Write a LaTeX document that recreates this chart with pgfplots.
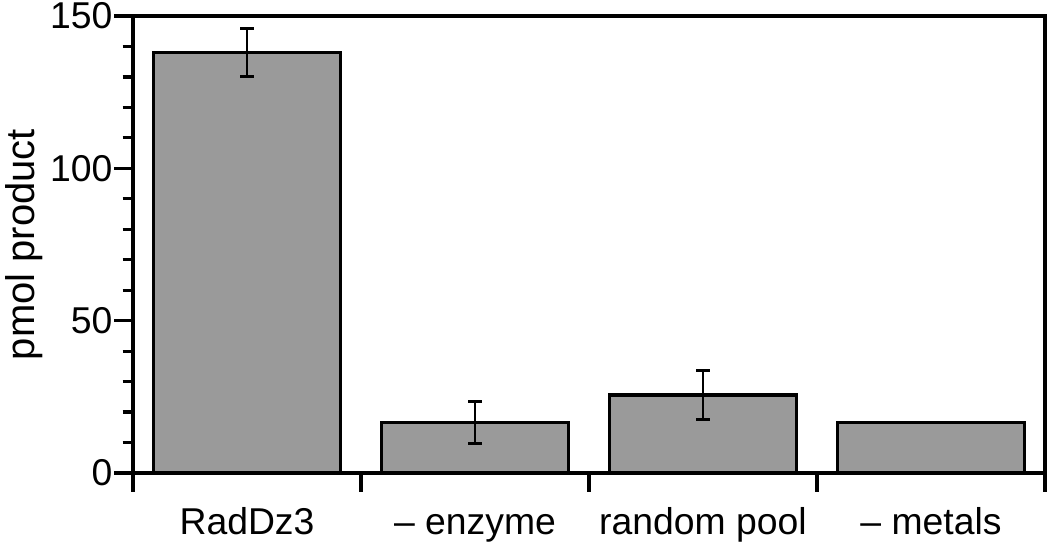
\documentclass[border=0pt]{standalone}
\usepackage{pgfplots}
\pgfplotsset{compat=1.18}
\usepackage{fontspec}
\setmainfont{Liberation Sans}
\definecolor{barfill}{RGB}{154,154,154}
\begin{document}
\begin{tikzpicture}
\begin{axis}[
  name=ax,
  scale only axis,
  width=342pt, height=171.375pt,
  xmin=-0.5, xmax=3.5,
  ymin=0, ymax=150,
  ytick={0,50,100,150},
  minor y tick num=4,
  xtick={-0.5,0.5,1.5,2.5,3.5},
  xticklabels={},
  extra x ticks={0,1,2,3},
  extra x tick labels={RadDz3,{– enzyme},{random pool},{– metals}},
  extra x tick style={major tick length=0pt, grid=none},
  tick align=outside,
  tick pos=left,
  major tick length=7.1pt,
  minor tick length=3.9pt,
  tick style={black, line width=1.2pt},
  axis line style={black, line width=1.4pt},
  /pgf/number format/assume math mode=true,
  yticklabel style={font=\fontsize{14}{16}\selectfont, inner sep=0pt, xshift=-0.4pt},
  xticklabel style={font=\fontsize{14}{16}\selectfont, anchor=base, yshift=-23.25pt},
  every axis y label/.style={at={(axis description cs:-0.1196,0.5)}, rotate=90, anchor=center},
  ylabel={\fontsize{15}{17}\selectfont pmol product},
]
\addplot[ybar, bar width=0.82, bar shift=0pt, fill=barfill, draw=black, line width=1.2pt,
  error bars/.cd, y dir=both, y explicit,
  error bar style={line width=1.1pt, black},
  error mark options={rotate=90, mark size=2.6pt, line width=1.1pt, black}]
  coordinates {(0,138) +- (0,7.9) (1,16.6) +- (0,6.8) (2,25.6) +- (0,7.9)};
\addplot[ybar, bar width=0.82, bar shift=0pt, fill=barfill, draw=black, line width=1.2pt]
  coordinates {(3,16.6)};
\end{axis}
\pgfresetboundingbox
\path ([xshift=-49.875pt,yshift=-27pt]ax.south west) rectangle ([xshift=1.875pt,yshift=6pt]ax.north east);
\end{tikzpicture}
\end{document}
